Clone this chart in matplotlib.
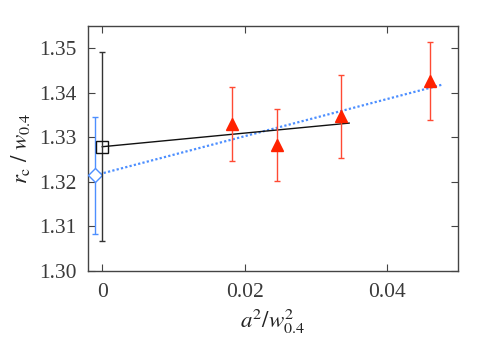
import matplotlib
matplotlib.use("Agg")
import matplotlib.pyplot as plt

plt.rcParams['mathtext.fontset'] = 'stix'
plt.rcParams['font.family'] = ['Liberation Serif', 'DejaVu Serif']

# Lattice data (red triangles)
lat_x = [0.0183, 0.0245, 0.0335, 0.0461]
lat_y = [1.3330, 1.3282, 1.3347, 1.3426]
lat_err = [0.0084, 0.0081, 0.0093, 0.0087]

# Continuum extrapolations
sq_x = [0.0]
sq_y = [1.3279]
sq_err = [0.0212]
dm_x = [-0.001]
dm_y = [1.3215]
dm_err = [0.0131]

# Fit lines
fit_black_x = [0.0, 0.0347]
fit_black_y = [1.3279, 1.3332]
fit_blue_x = [-0.001, 0.0477]
fit_blue_y = [1.3215, 1.3418]

fig = plt.figure(figsize=(4.98, 3.49), dpi=100)
ax = fig.add_axes([0.1767, 0.2235, 0.743, 0.702])

red = '#ff2200'
red_err = '#ff4a33'
blue = '#4d8fff'

ax.plot(fit_blue_x, fit_blue_y, ls=(0, (1, 1)), color=blue, lw=1.6)
ax.plot(fit_black_x, fit_black_y, '-', color='#111111', lw=1.0)

ax.errorbar(dm_x, dm_y, yerr=dm_err, fmt='D', color=blue, mfc='white',
            mec=blue, ms=7, capsize=2.5, lw=1.0, mew=1.0, zorder=4)
ax.errorbar(sq_x, sq_y, yerr=sq_err, fmt='s', color='#333333', mfc='none',
            mec='#111111', ms=8, capsize=2.5, lw=1.0, mew=1.0, zorder=5)
ax.errorbar(lat_x, lat_y, yerr=lat_err, fmt='^', color=red_err, mfc=red,
            mec=red, ms=8.5, capsize=2.5, lw=1.0, zorder=6)

ax.set_xlim(-0.002, 0.05)
ax.set_ylim(1.30, 1.355)
ax.set_xticks([0, 0.02, 0.04])
ax.set_xticklabels(['0', '0.02', '0.04'])
ax.set_yticks([1.30, 1.31, 1.32, 1.33, 1.34, 1.35])
ax.set_yticklabels(['1.30', '1.31', '1.32', '1.33', '1.34', '1.35'])

for s in ax.spines.values():
    s.set_color('#444444')
    s.set_linewidth(1.0)
ax.tick_params(direction='in', top=True, right=True, length=5, width=0.8,
               colors='#444444', labelsize=15.5, labelcolor='#3a3a3a')
ax.tick_params(axis='x', pad=9)
ax.tick_params(axis='y', pad=8)

ax.set_xlabel(r'$a^2/w_{0.4}^2$', fontsize=16.5, color='#222222', labelpad=3)
ax.set_ylabel(r'$r_{\mathrm{c}}\ /\ w_{0.4}$', fontsize=16.5, color='#222222', labelpad=5)

fig.savefig('out.png', dpi=100)
